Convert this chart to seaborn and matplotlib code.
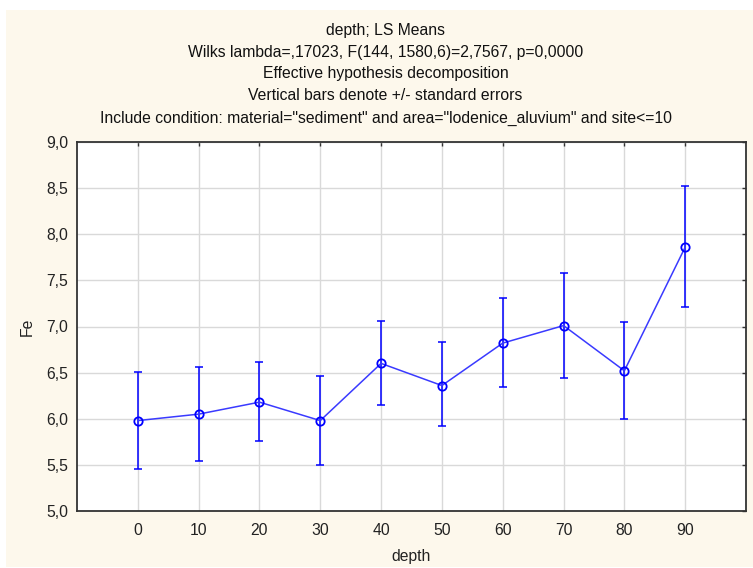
import numpy as np
import pandas as pd
import matplotlib
matplotlib.use("Agg")
import matplotlib.pyplot as plt
import seaborn as sns
from matplotlib.patches import Rectangle
from matplotlib.ticker import FuncFormatter

depth = [0, 10, 20, 30, 40, 50, 60, 70, 80, 90]
fe_mean = [5.98, 6.05, 6.18, 5.98, 6.60, 6.36, 6.82, 7.01, 6.52, 7.86]
fe_upper = [6.51, 6.56, 6.61, 6.46, 7.06, 6.83, 7.31, 7.58, 7.05, 8.52]
fe_lower = [5.46, 5.54, 5.76, 5.50, 6.15, 5.92, 6.34, 6.44, 6.00, 7.21]

title_lines = [
    "depth; LS Means",
    "Wilks lambda=,17023, F(144, 1580,6)=2,7567, p=0,0000",
    "Effective hypothesis decomposition",
    "Vertical bars denote +/- standard errors",
    'Include condition: material="sediment" and area="lodenice_aluvium" and site<=10',
]
y_ticks = [5.0, 5.5, 6.0, 6.5, 7.0, 7.5, 8.0, 8.5, 9.0]

df = pd.DataFrame({"depth": depth, "Fe": fe_mean})

sns.set_style("white")
plt.rcParams["font.family"] = ["Liberation Sans", "DejaVu Sans"]

W, H = 753, 568
fig = plt.figure(figsize=(W / 100, H / 100), dpi=100, facecolor="white")
bg = "#fdf8ec"
fig.patches.append(Rectangle((6 / W, 1 / H), 1 - 6 / W, (H - 11) / H,
                             transform=fig.transFigure, facecolor=bg,
                             edgecolor="none", zorder=-10))

ax = fig.add_axes([77 / W, 1 - 511 / H, (746 - 77) / W, (511 - 142) / H])
ax.set_facecolor("white")
ax.set_zorder(1)

blue = "#0000ff"
yerr = [np.array(fe_mean) - np.array(fe_lower), np.array(fe_upper) - np.array(fe_mean)]
ax.errorbar(depth, fe_mean, yerr=yerr, fmt="none", ecolor=blue, elinewidth=1.1,
            capsize=3, capthick=1.1, zorder=3)
sns.lineplot(data=df, x="depth", y="Fe", ax=ax, color="#3a3aff", linewidth=1.1,
             marker="o", markersize=6, markerfacecolor="none",
             markeredgecolor=blue, markeredgewidth=1.3, zorder=4)

ax.set_xlim(-10, 100)
ax.set_ylim(5.0, 9.0)
ax.set_xticks(depth)
ax.set_yticks(y_ticks)
ax.yaxis.set_major_formatter(FuncFormatter(lambda v, p: f"{v:.1f}".replace(".", ",")))
ax.grid(True, color="#d9d9d9", linewidth=1)
ax.set_axisbelow(True)
for s in ax.spines.values():
    s.set_color("#333333")
    s.set_linewidth(1.3)
ax.tick_params(direction="in", length=3, width=1, colors="#333333",
               top=True, right=True, labelsize=11.3, labelcolor="#222222")
ax.tick_params(axis="y", pad=6.5)
ax.tick_params(axis="x", pad=8.5)

ax.set_xlabel("depth", fontsize=11.3, color="#222222", labelpad=8)
ax.set_ylabel("Fe", fontsize=11.3, color="#222222", labelpad=8)

for i, line in enumerate(title_lines):
    fig.text(385.5 / W, 1 - (30 + 22 * i) / H, line, ha="center", va="center",
             fontsize=11.3, color="#111111")

fig.savefig("out.png", dpi=100, facecolor=fig.get_facecolor())
